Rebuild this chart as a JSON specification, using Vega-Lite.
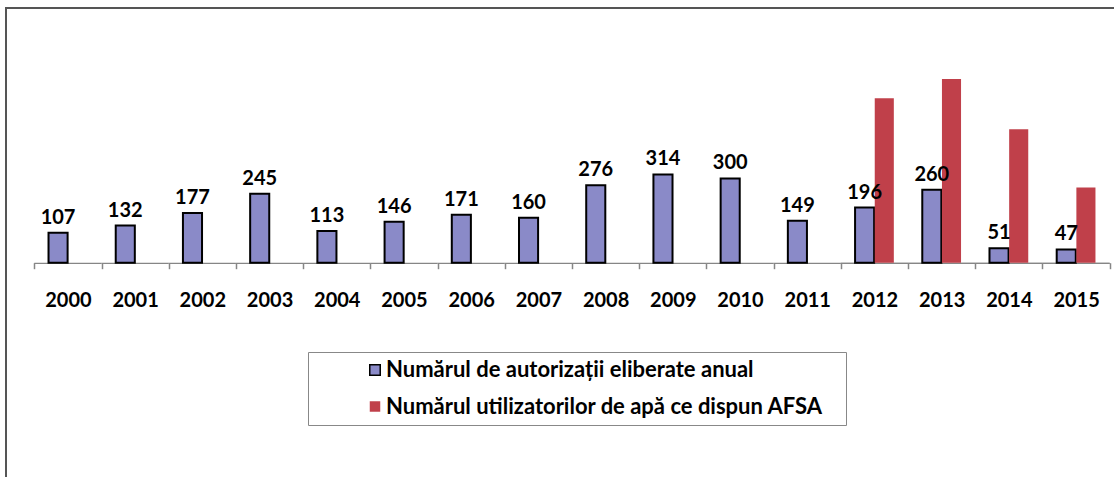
{
  "$schema": "https://vega.github.io/schema/vega-lite/v6.json",
  "width": 1112,
  "height": 472,
  "autosize": {"type": "none"},
  "padding": {"left": 6, "top": 8, "right": 0, "bottom": 0},
  "background": "white",
  "config": {
    "view": {"stroke": "#555555", "strokeWidth": 2},
    "font": "Lato",
    "legend": {
      "orient": "none",
      "legendX": 302,
      "legendY": 344,
      "strokeColor": "#888888",
      "fillColor": "white",
      "padding": 7,
      "symbolType": "square",
      "symbolSize": 110,
      "symbolOffset": 49,
      "labelFont": "Lato",
      "labelFontWeight": "bold",
      "labelFontSize": 22,
      "labelColor": "#000000",
      "labelOffset": 0,
      "labelLimit": 700,
      "rowPadding": 14.5,
      "titleOrient": "right",
      "titlePadding": 10,
      "titleFontSize": 2,
      "titleColor": "#ffffff"
    }
  },
  "data": {
    "values": [
      {"year": "2000", "series": "Numărul de autorizații eliberate anual", "value": 107},
      {"year": "2001", "series": "Numărul de autorizații eliberate anual", "value": 132},
      {"year": "2002", "series": "Numărul de autorizații eliberate anual", "value": 177},
      {"year": "2003", "series": "Numărul de autorizații eliberate anual", "value": 245},
      {"year": "2004", "series": "Numărul de autorizații eliberate anual", "value": 113},
      {"year": "2005", "series": "Numărul de autorizații eliberate anual", "value": 146},
      {"year": "2006", "series": "Numărul de autorizații eliberate anual", "value": 171},
      {"year": "2007", "series": "Numărul de autorizații eliberate anual", "value": 160},
      {"year": "2008", "series": "Numărul de autorizații eliberate anual", "value": 276},
      {"year": "2009", "series": "Numărul de autorizații eliberate anual", "value": 314},
      {"year": "2010", "series": "Numărul de autorizații eliberate anual", "value": 300},
      {"year": "2011", "series": "Numărul de autorizații eliberate anual", "value": 149},
      {"year": "2012", "series": "Numărul de autorizații eliberate anual", "value": 196},
      {"year": "2013", "series": "Numărul de autorizații eliberate anual", "value": 260},
      {"year": "2014", "series": "Numărul de autorizații eliberate anual", "value": 51},
      {"year": "2015", "series": "Numărul de autorizații eliberate anual", "value": 47},
      {"year": "2012", "series": "Numărul utilizatorilor de apă ce dispun  AFSA", "value": 585},
      {"year": "2013", "series": "Numărul utilizatorilor de apă ce dispun  AFSA", "value": 654},
      {"year": "2014", "series": "Numărul utilizatorilor de apă ce dispun  AFSA", "value": 475},
      {"year": "2015", "series": "Numărul utilizatorilor de apă ce dispun  AFSA", "value": 268}
    ]
  },
  "encoding": {
    "x": {
      "field": "year",
      "type": "nominal",
      "scale": {"paddingInner": 0, "paddingOuter": 0.2723, "align": 0.773},
      "axis": {
        "title": null,
        "domain": false,
        "tickBand": "extent",
        "ticks": true,
        "tickSize": 6,
        "tickColor": "#868686",
        "tickWidth": 1.5,
        "labelAngle": 0,
        "labelFont": "Lato",
        "labelFontWeight": "bold",
        "labelFontSize": 20,
        "labelColor": "#000000",
        "labelBaseline": "middle",
        "labelPadding": 32,
        "offset": -217.3,
        "grid": false
      }
    }
  },
  "layer": [
    {
      "mark": {"type": "bar", "color": "#868686"},
      "encoding": {
        "y": {"datum": 0, "type": "quantitative", "scale": {"domain": [-773.3, 906.4]}, "axis": null},
        "y2": {"datum": -5}
      }
    },
    {
      "mark": {"type": "bar", "strokeWidth": 2},
      "encoding": {
        "xOffset": {"field": "series", "type": "nominal", "scale": {"paddingInner": 0.03, "paddingOuter": 0.723}},
        "y": {"field": "value", "type": "quantitative", "scale": {"domain": [-773.3, 906.4]}, "axis": null},
        "color": {
          "field": "series",
          "type": "nominal",
          "scale": {"range": ["#8a8ac8", "#c0404a"]},
          "legend": {"title": "\u00a0"}
        },
        "stroke": {
          "field": "series",
          "type": "nominal",
          "scale": {"range": ["#000000", "transparent"]},
          "legend": {"title": "\u00a0"}
        }
      }
    },
    {
      "transform": [{"filter": "datum.series === 'Numărul de autorizații eliberate anual'"}],
      "mark": {"type": "text", "font": "Lato", "fontWeight": "bold", "fontSize": 20, "color": "#000000", "baseline": "alphabetic", "dy": -9},
      "encoding": {
        "xOffset": {"field": "series", "type": "nominal"},
        "y": {"field": "value", "type": "quantitative", "scale": {"domain": [-773.3, 906.4]}, "axis": null},
        "text": {"field": "value", "type": "quantitative"}
      }
    }
  ]
}
